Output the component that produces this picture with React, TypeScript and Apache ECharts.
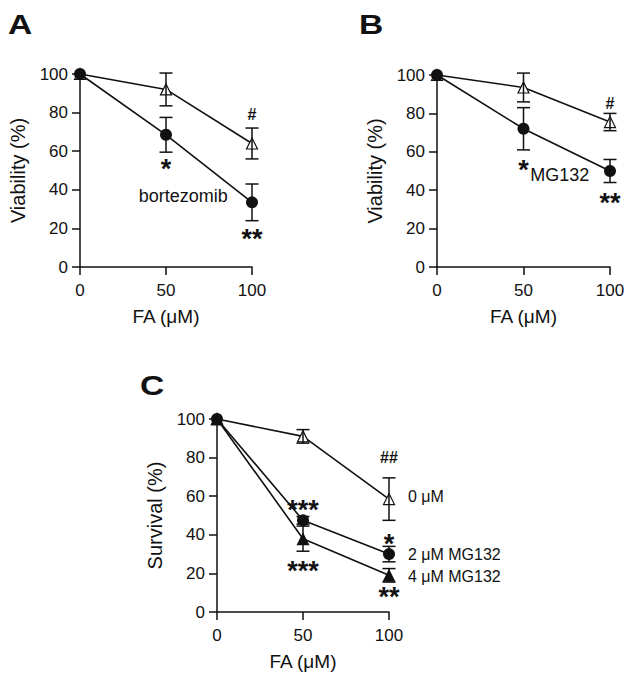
import React, { useEffect, useRef } from "react";
import * as echarts from "echarts";

// ---- data ----
const doses = [0, 50, 100];

// Panel A
const aControl = [100, 92, 64];
const aControlErr = [0, 8.5, 8];
const aBortezomib = [100, 68.5, 33.5];
const aBortezomibErr = [0, 9, 9.5];

// Panel B
const bControl = [100, 93.5, 75.5];
const bControlErr = [0, 7.5, 4.5];
const bMG132 = [100, 72, 50];
const bMG132Err = [0, 11, 6];

// Panel C
const c0uM = [100, 91, 58.5];
const c0uMErr = [0, 3.5, 11];
const c2uM = [100, 47.5, 30];
const c2uMErr = [0, 2, 4];
const c4uM = [100, 38, 19];
const c4uMErr = [0, 6.5, 3.5];

// annotations (data coordinates)
const annA = [
  { x: 50, y: 54, t: "*" },
  { x: 100, y: 79, t: "#" },
  { x: 100, y: 18, t: "**" },
  { x: 60, y: 37, t: "bortezomib" },
];
const annB = [
  { x: 50, y: 54, t: "*" },
  { x: 100, y: 85, t: "#" },
  { x: 100, y: 36.5, t: "**" },
  { x: 71, y: 48, t: "MG132" },
];
const annC = [
  { x: 50, y: 56, t: "***" },
  { x: 50, y: 24.5, t: "***" },
  { x: 100, y: 80, t: "##" },
  { x: 100, y: 38.5, t: "*" },
  { x: 100, y: 11, t: "**" },
  { x: 111, y: 60, t: "0 μM" },
  { x: 111, y: 30, t: "2 μM MG132" },
  { x: 111, y: 18.3, t: "4 μM MG132" },
];

const FONT = "'Liberation Sans', Arial, Helvetica, sans-serif";
const INK = "#111";

function axisPair(gridIndex: number, yName: string) {
  const line = { show: true, onZero: false, lineStyle: { color: INK, width: 1.5 } };
  const tick = { show: true, length: 8, lineStyle: { color: INK, width: 1.5 } };
  return {
    x: {
      gridIndex,
      type: "value",
      min: 0,
      max: 100,
      interval: 50,
      name: "FA (μM)",
      nameLocation: "middle",
      nameGap: 40,
      nameTextStyle: { fontSize: 19, color: INK, fontFamily: FONT },
      axisLine: line,
      axisTick: tick,
      axisLabel: { fontSize: 17, color: INK, margin: 15, fontFamily: FONT },
      splitLine: { show: false },
    },
    y: {
      gridIndex,
      type: "value",
      min: 0,
      max: 100,
      interval: 20,
      name: yName,
      nameLocation: "middle",
      nameGap: 52,
      nameTextStyle: { fontSize: 20, color: INK, fontFamily: FONT },
      axisLine: line,
      axisTick: tick,
      axisLabel: { fontSize: 17, color: INK, margin: 12, fontFamily: FONT },
      splitLine: { show: false },
    },
  };
}

function lineSeries(idx: number, vals: number[], kind: "circle" | "openTri" | "fillTri", z: number) {
  const isTri = kind !== "circle";
  return {
    type: "line",
    xAxisIndex: idx,
    yAxisIndex: idx,
    data: doses.map((d, i) => [d, vals[i]]),
    symbol: isTri ? "triangle" : "circle",
    symbolSize: kind === "circle" ? 12 : kind === "openTri" ? 11 : 13,
    showSymbol: true,
    clip: false,
    z,
    lineStyle: { color: INK, width: 1.6 },
    itemStyle:
      kind === "openTri"
        ? { color: "#fff", borderColor: INK, borderWidth: 1.2 }
        : { color: INK, borderColor: INK, borderWidth: 0 },
    emphasis: { disabled: true },
  };
}

function errSeries(idx: number, vals: number[], errs: number[], z: number) {
  return {
    type: "custom",
    xAxisIndex: idx,
    yAxisIndex: idx,
    z,
    clip: false,
    data: doses.map((d, i) => [d, vals[i] - errs[i], vals[i] + errs[i]]),
    encode: { x: 0, y: [1, 2] },
    renderItem: (params: any, api: any) => {
      const x = api.value(0);
      const lo = api.value(1);
      const hi = api.value(2);
      if (hi - lo <= 0) return { type: "group", children: [] };
      const p1 = api.coord([x, hi]);
      const p2 = api.coord([x, lo]);
      const w = 6.5;
      const st = { stroke: INK, lineWidth: 1.5 };
      return {
        type: "group",
        children: [
          { type: "line", shape: { x1: p1[0], y1: p1[1], x2: p2[0], y2: p2[1] }, style: st },
          { type: "line", shape: { x1: p1[0] - w, y1: p1[1], x2: p1[0] + w, y2: p1[1] }, style: st },
          { type: "line", shape: { x1: p2[0] - w, y1: p2[1], x2: p2[0] + w, y2: p2[1] }, style: st },
        ],
      };
    },
  };
}

function annSeries(idx: number, ann: { x: number; y: number; t: string }[], leftAlignText: boolean) {
  return {
    type: "custom",
    xAxisIndex: idx,
    yAxisIndex: idx,
    z: 10,
    clip: false,
    silent: true,
    data: ann.map((a) => [a.x, a.y]),
    renderItem: (params: any, api: any) => {
      const a = ann[params.dataIndex];
      const p = api.coord([api.value(0), api.value(1)]);
      const isStar = /^\*+$/.test(a.t);
      const isHash = /^#+$/.test(a.t);
      let fontSize = 18;
      let dy = 0;
      let align = "center";
      let fontWeight: any = "normal";
      if (isStar) {
        fontSize = 27;
        fontWeight = "bold";
        dy = fontSize * 0.24;
      } else if (isHash) {
        fontSize = 16;
        fontWeight = "bold";
      } else if (leftAlignText) {
        fontSize = 16;
        align = "left";
      }
      return {
        type: "text",
        x: p[0],
        y: p[1] + dy,
        style: {
          text: a.t,
          fontSize,
          fontFamily: FONT,
          fontWeight,
          fill: INK,
          align,
          verticalAlign: "middle",
        },
      };
    },
  };
}

export default function App() {
  const ref = useRef<HTMLDivElement>(null);
  useEffect(() => {
    if (!ref.current) return;
    const chart = echarts.init(ref.current, null, { renderer: "svg" });
    const A = axisPair(0, "Viability (%)");
    const B = axisPair(1, "Viability (%)");
    const C = axisPair(2, "Survival (%)");
    const letter = (text: string, left: number, top: number) => ({
      type: "text",
      left,
      top,
      style: { text, fontSize: 28, fontWeight: "bold", fontFamily: FONT, fill: INK },
      scaleX: 1.2,
    });
    chart.setOption({
      animation: false,
      backgroundColor: "#fff",
      grid: [
        { left: 80, top: 74, width: 172, height: 193 },
        { left: 437, top: 75, width: 173, height: 192 },
        { left: 217, top: 419, width: 172, height: 193 },
      ],
      xAxis: [A.x, B.x, C.x],
      yAxis: [A.y, B.y, C.y],
      graphic: [letter("A", 8, 10), letter("B", 359, 10), letter("C", 140, 371)],
      series: [
        lineSeries(0, aControl, "openTri", 2),
        lineSeries(0, aBortezomib, "circle", 3),
        errSeries(0, aControl, aControlErr, 4),
        errSeries(0, aBortezomib, aBortezomibErr, 4),
        annSeries(0, annA, false),

        lineSeries(1, bControl, "openTri", 2),
        lineSeries(1, bMG132, "circle", 3),
        errSeries(1, bControl, bControlErr, 4),
        errSeries(1, bMG132, bMG132Err, 4),
        annSeries(1, annB, false),

        lineSeries(2, c0uM, "openTri", 2),
        lineSeries(2, c4uM, "fillTri", 3),
        lineSeries(2, c2uM, "circle", 3),
        errSeries(2, c0uM, c0uMErr, 4),
        errSeries(2, c4uM, c4uMErr, 4),
        errSeries(2, c2uM, c2uMErr, 4),
        annSeries(2, annC, true),
      ],
    });
    return () => chart.dispose();
  }, []);
  return (
    <div
      ref={ref}
      style={{ position: "absolute", left: 0, top: 0, width: 632, height: 681, background: "#fff" }}
    />
  );
}
